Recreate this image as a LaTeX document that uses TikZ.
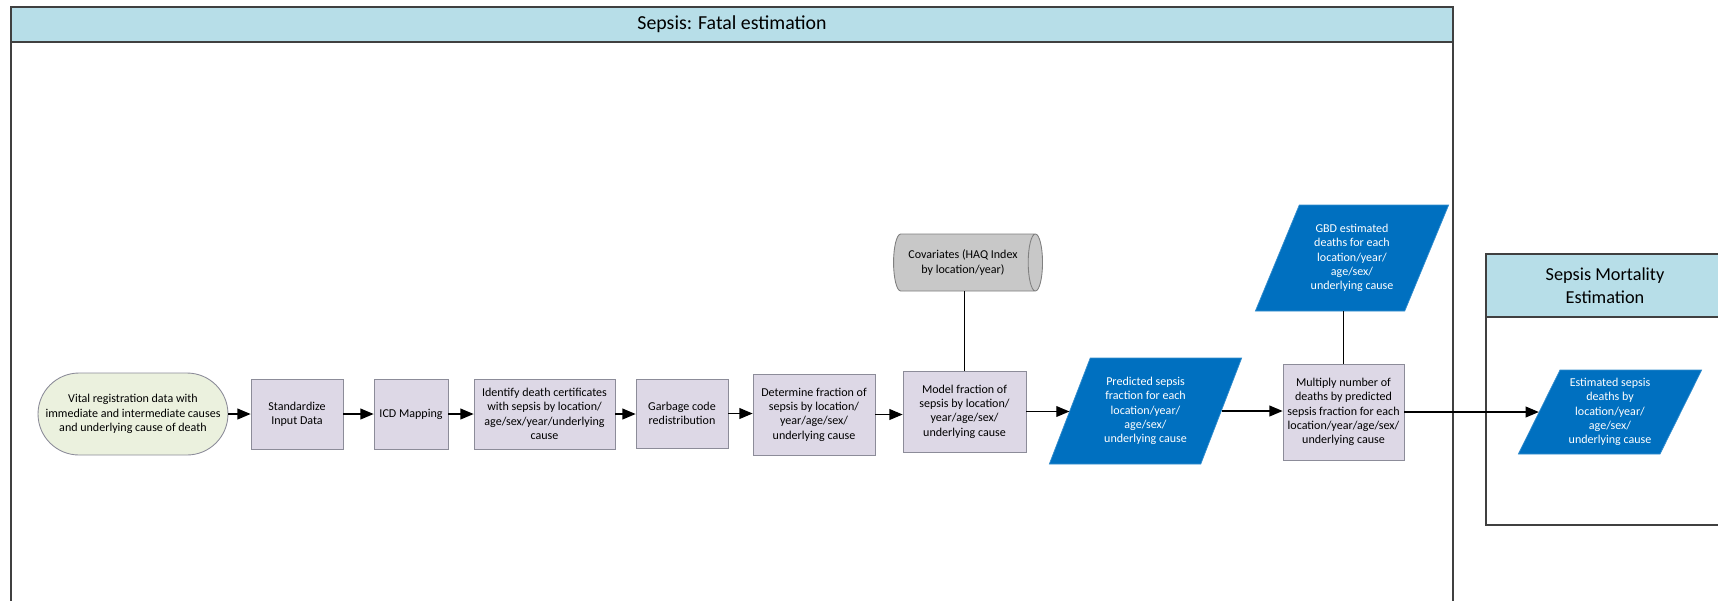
\documentclass[tikz,border=0pt]{standalone}
\usepackage{fontspec}
\setmainfont{Carlito}
\usepackage{xcolor}
\usepackage{tikz}
\usetikzlibrary{arrows,shapes.geometric}

\definecolor{hdrfill}{HTML}{B7DEE8}
\definecolor{procfill}{HTML}{DDD8E6}
\definecolor{procline}{HTML}{8C8C99}
\definecolor{termfill}{HTML}{EBF1DE}
\definecolor{cylfill}{HTML}{C8C8C8}
\definecolor{dblue}{HTML}{0070C0}
\definecolor{frameline}{HTML}{404040}

\begin{document}
\begin{tikzpicture}[x=0.02cm, y=-0.02cm,
                    line width=0.7pt,
                    every node/.style={font=\fontsize{6.85}{8.2}\selectfont,
                    align=center, inner sep=1pt},
                    proc/.style n args={2}{rectangle, draw=procline, fill=procfill,
                    line width=0.5pt,
                    minimum width=#1, minimum height=#2},
                    term/.style={rectangle, draw=procline, fill=termfill,
                    line width=0.5pt, rounded corners=0.82cm,
                    minimum width=3.8cm, minimum height=1.64cm},
                    cyl/.style={cylinder, draw=gray, fill=cylfill, aspect=0.5,
                    line width=0.5pt,
                    minimum width=1.14cm, minimum height=2.98cm},
                    para/.style n args={4}{trapezium, draw=dblue!80!white, fill=dblue,
                    text=white, line width=0.4pt, trapezium stretches=true,
                    trapezium left angle=#1, trapezium right angle=#2,
                    minimum width=#3, minimum height=#4},
                    title/.style 2 args={font=\fontsize{#1}{#2}\selectfont}]
    \useasboundingbox (0,0) rectangle (1718,600);

    % swimlanes
    \draw[frameline, line width=0.8pt] (11,7) rectangle (1453,620);
    \draw[frameline, line width=0.8pt, fill=hdrfill] (11,7) rectangle (1453,42);
    \node[title={11.3}{13.5}] (fatal) at (732,24.5) {Sepsis: Fatal estimation};
    \draw[frameline, line width=0.8pt] (1486,254) rectangle (1730,525);
    \draw[frameline, line width=0.8pt, fill=hdrfill] (1486,254) rectangle (1730,317);
    \node[title={10.4}{12.9}] (mort) at (1605,285.5) {Sepsis Mortality\\Estimation};

    \node[term] (vr) at (133,414) {Vital registration data with\\immediate and intermediate causes\\and underlying cause of death};
    \node[proc={1.84cm}{1.4cm}] (std) at (297,414) {Standardize\\Input Data};
    \node[proc={1.48cm}{1.4cm}] (icd) at (411,414) {ICD Mapping};
    \node[proc={2.82cm}{1.4cm}] (ident) at (544.5,414) {Identify death certificates\\with sepsis by location/\\age/sex/year/underlying\\cause};
    \node[proc={1.84cm}{1.38cm}] (garb) at (682,413.5) {Garbage code\\redistribution};
    \node[proc={2.44cm}{1.62cm}] (det) at (814,414.5) {Determine fraction of\\sepsis by location/\\year/age/sex/\\underlying cause};
    \node[proc={2.46cm}{1.62cm}] (model) at (964.5,411.5) {Model fraction of\\sepsis by location/\\year/age/sex/\\underlying cause};
    \node[cyl] (cov) at (963,262.5) {Covariates (HAQ Index\\by location/year)};
    \node[para={66}{114}{3.86cm}{2.12cm}] (pred) at (1145.5,411) {Predicted sepsis\\fraction for each\\location/year/\\age/sex/\\underlying cause};
    \node[para={63.4}{116.6}{3.88cm}{2.12cm}] (gbd) at (1352,258) {GBD estimated\\deaths for each\\location/year/\\age/sex/\\underlying cause};
    \node[proc={2.42cm}{1.92cm}] (mult) at (1343.5,412) {Multiply number of\\deaths by predicted\\sepsis fraction for each\\location/year/age/sex/\\underlying cause};
    \node[para={63.4}{116.6}{3.68cm}{1.68cm}] (est) at (1610,412) {Estimated sepsis\\deaths by\\location/year/\\age/sex/\\underlying cause};

    \foreach \a/\b in {vr/std,std/icd,icd/ident,ident/garb,garb/det,det/model,model/pred,pred/mult,mult/est}
        \draw[-triangle 45] (\a.east) -- (\a.east -| \b.west);
    \draw (model.north) -- (model.north |- cov.south);
    \draw (mult.north) -- (mult.north |- gbd.south);

\end{tikzpicture}
\end{document}
